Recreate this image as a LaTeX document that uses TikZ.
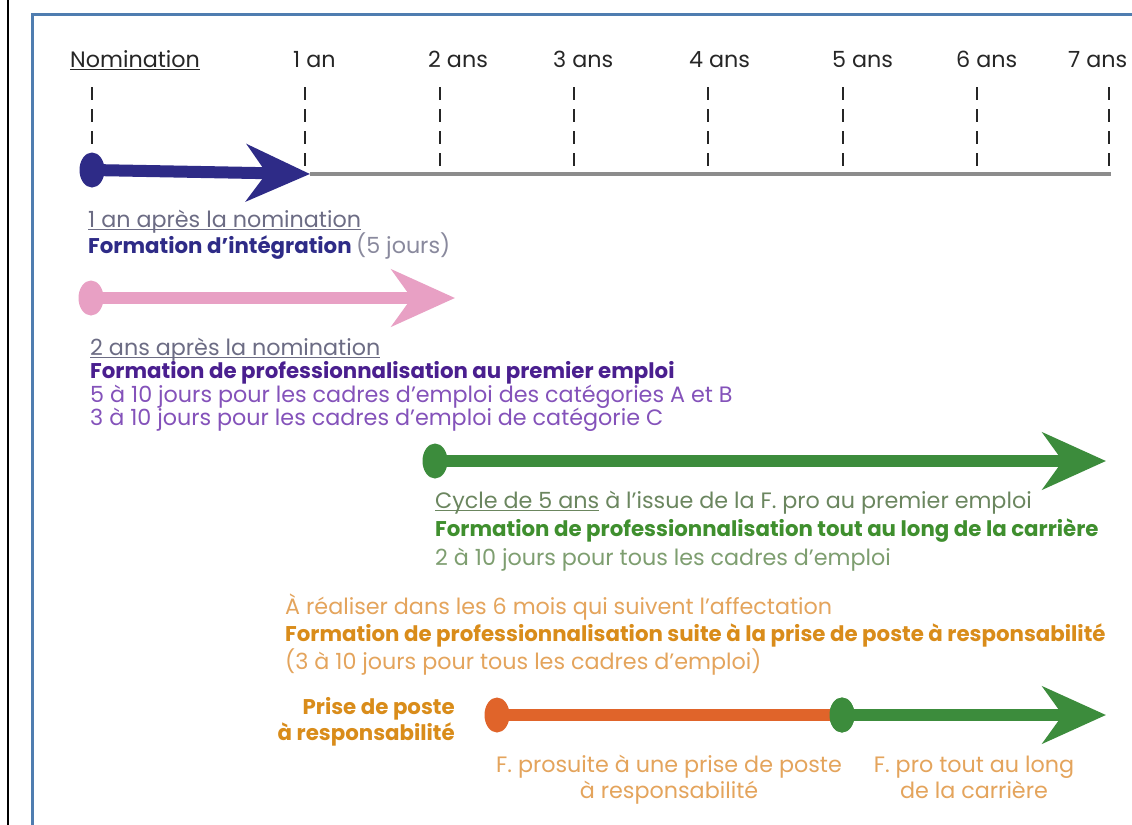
\documentclass[tikz,border=0pt]{standalone}
\usepackage{fontspec}
\setmainfont{Poppins}
\usetikzlibrary{arrows.meta, positioning, shapes.geometric}
\definecolor{navy}{HTML}{2E2B87}
\definecolor{pinkarr}{HTML}{E8A0C4}
\definecolor{purplebold}{HTML}{4A1F8F}
\definecolor{purplelight}{HTML}{8452BA}
\definecolor{greyblue}{HTML}{6C6C84}
\definecolor{greenarr}{HTML}{3C8C3C}
\definecolor{greenbold}{HTML}{3F8F2E}
\definecolor{greenlight}{HTML}{7E9E70}
\definecolor{orangearr}{HTML}{E0642A}
\definecolor{orangebold}{HTML}{D98C1A}
\definecolor{orangelight}{HTML}{E4A45C}
\definecolor{frameblue}{HTML}{4F7DB0}
\newcommand{\underlinetxt}[1]{\setbox0\hbox{#1}\rlap{\rule[-2.6pt]{\wd0}{0.6pt}}\box0\relax}
\tikzset{
    yearlabel/.style = {anchor=base west, inner sep=0pt, font=\fontsize{19}{21.5}\selectfont, text=black!85},
    yeardash/.style = {line width=0.6mm, dash pattern=on 3.9mm off 2.7mm, draw=black!85},
    timeaxis/.style = {line width=1.2mm, draw=black!45},
    txt/.style = {anchor=base west, inner sep=0pt, font=\fontsize{19}{21.5}\selectfont},
    txtbold/.style = {anchor=base west, inner sep=0pt, font=\fontsize{18.2}{21.5}\selectfont\bfseries},
    startdot/.style = {ellipse, minimum width=7.5mm, minimum height=10.5mm, inner sep=0pt},
    bigarrow/.style = {line width=3.6mm, -{Stealth[length=19mm, width=17mm, inset=6mm]}}
}
\begin{document}
\begin{tikzpicture}[x=0.3mm, y=-0.3mm]
\useasboundingbox (0,0) rectangle (1132,825);
\fill[white] (0,0) rectangle (1132,825);
\draw[line width=0.6mm] (8,0) -- (8,825);
\draw[frameblue, line width=0.9mm] (32,830) -- (32,14) -- (1140,14);

% en-tete des annees
\node (nom) [yearlabel] at (70,67) {\underlinetxt{Nomination}};
\node (y1) [yearlabel] at (293,67) {1 an};
\node (y2) [yearlabel] at (428,67) {2 ans};
\node (y3) [yearlabel] at (553,67) {3 ans};
\node (y4) [yearlabel] at (689,67) {4 ans};
\node (y5) [yearlabel] at (832,67) {5 ans};
\node (y6) [yearlabel] at (956,67) {6 ans};
\node (y7) [yearlabel] at (1068,67) {7 ans};

\draw [yeardash] (92,87) -- (92,144);
\draw [yeardash] (305,87) -- (305,166);
\draw [yeardash] (440,87) -- (440,166);
\draw [yeardash] (574,87) -- (574,166);
\draw [yeardash] (708,87) -- (708,166);
\draw [yeardash] (843,87) -- (843,166);
\draw [yeardash] (977,87) -- (977,166);
\draw [yeardash] (1109,87) -- (1109,166);

% ligne du temps
\node (dot0) [startdot, fill=navy] at (92,170) {};
\coordinate (tip1) at (310,174);
\coordinate (axisend) at (1111,174);
\draw [timeaxis] (tip1) -- (axisend);
\draw [bigarrow, navy] (dot0.center) -- (tip1);

\node (t1a) [txt, text=greyblue] at (88,227) {\underlinetxt{1 an après la nomination}};
\node (t1b) [txtbold, text=navy] at (88,253) {Formation d’intégration \textmd{\fontsize{19}{21.5}\selectfont\color{greyblue!80}(5 jours)}};

% formation au premier emploi
\node (dot1) [startdot, fill=pinkarr] at (91,298) {};
\coordinate (tip2) at (455,298);
\draw [bigarrow, pinkarr] (dot1.center) -- (tip2);

\node (t2a) [txt, text=greyblue] at (90,355) {\underlinetxt{2 ans après la nomination}};
\node (t2b) [txtbold, text=purplebold] at (90,378) {Formation de professionnalisation au premier emploi};
\node (t2c) [txt, text=purplelight] at (90,402) {5 à 10 jours pour les cadres d’emploi des catégories A et B};
\node (t2d) [txt, text=purplelight] at (90,425) {3 à 10 jours pour les cadres d’emploi de catégorie C};

% tout au long de la carriere
\node (dot2) [startdot, fill=greenarr] at (435,461) {};
\coordinate (tip3) at (1106,461);
\draw [bigarrow, greenarr] (dot2.center) -- (tip3);

\node (t3a) [txt, text=greenlight!85!black] at (435,508) {\underlinetxt{Cycle de 5 ans} à l’issue de la F. pro au premier emploi};
\node (t3b) [txtbold, text=greenbold] at (435,536) {Formation de professionnalisation tout au long de la carrière};
\node (t3c) [txt, text=greenlight] at (435,565) {2 à 10 jours pour tous les cadres d’emploi};

% prise de poste a responsabilite
\node (t4a) [txt, text=orangelight] at (285,614) {À réaliser dans les 6 mois qui suivent l’affectation};
\node (t4b) [txtbold, text=orangebold] at (285,641) {Formation de professionnalisation suite à la prise de poste à responsabilité};
\node (t4c) [txt, text=orangelight] at (285,669) {(3 à 10 jours pour tous les cadres d’emploi)};

\node (prise) [txtbold, text=orangebold, anchor=base east, align=right] at (455,740) {Prise de poste\\à responsabilité};

\node (dot3) [startdot, fill=orangearr] at (497,715) {};
\node (dot4) [startdot, fill=greenarr] at (842,715) {};
\coordinate (tip4) at (1106,715);
\draw [line width=3.6mm, orangearr] (dot3.center) -- (dot4.center);
\node (dot4b) [startdot, fill=greenarr] at (dot4) {};
\draw [bigarrow, greenarr] (dot4.center) -- (tip4);

\node (b1) [txt, text=orangelight, anchor=base, align=center] at (669,798) {F. prosuite à une prise de poste\\à responsabilité};
\node (b2) [txt, text=orangelight, anchor=base, align=center] at (974,798) {F. pro tout au long\\de la carrière};
\end{tikzpicture}
\end{document}
